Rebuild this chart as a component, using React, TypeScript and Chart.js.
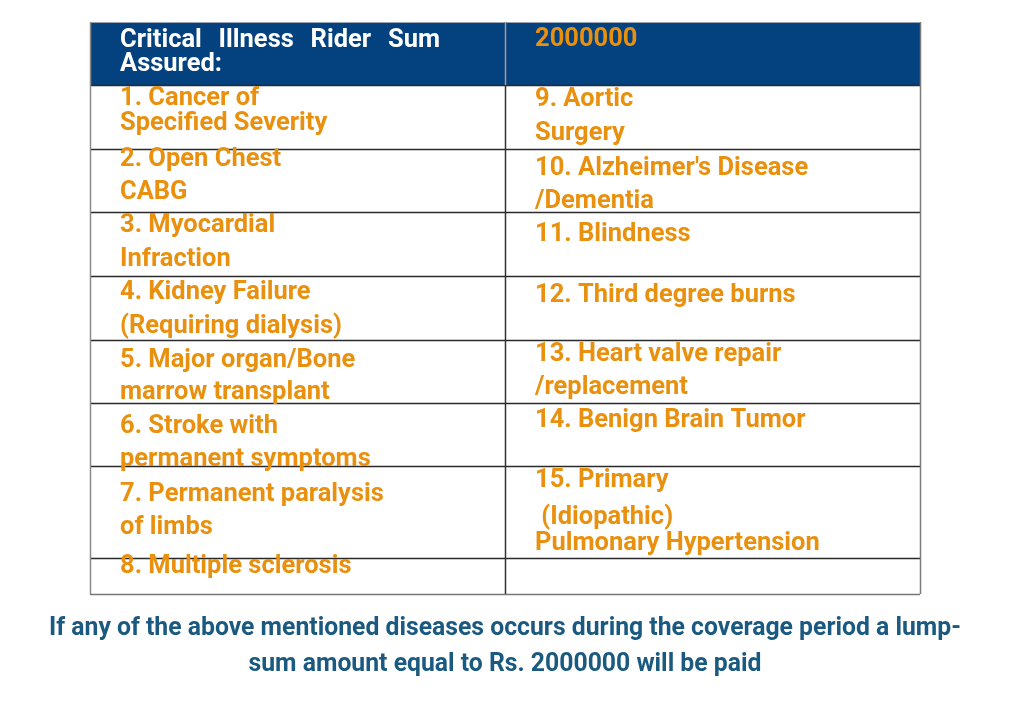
import React, { useEffect, useRef } from "react";
import { Chart, registerables } from "chart.js";

Chart.register(...registerables);

// ---- table content ----
const headerLeft: string[] = ["Critical Illness Rider Sum", "Assured:"];
const headerRight: string[] = ["2000000"];

const leftCells: string[][] = [
  ["1. Cancer of", "Specified Severity"],
  ["2. Open Chest", "CABG"],
  ["3. Myocardial", "Infraction"],
  ["4. Kidney Failure", "(Requiring dialysis)"],
  ["5. Major organ/Bone", "marrow transplant"],
  ["6. Stroke with", "permanent symptoms"],
  ["7. Permanent paralysis", "of limbs"],
  ["8. Multiple sclerosis"],
];

const rightCells: string[][] = [
  ["9. Aortic", "Surgery"],
  ["10. Alzheimer's Disease", "/Dementia"],
  ["11. Blindness"],
  ["12. Third degree burns"],
  ["13. Heart valve repair", "/replacement"],
  ["14. Benign Brain Tumor"],
  ["15. Primary", " (Idiopathic)", "Pulmonary Hypertension"],
  [],
];

const footerLines: string[] = [
  "If any of the above mentioned diseases occurs during the coverage period a lump-",
  "sum amount equal to Rs. 2000000 will be paid",
];

// ---- layout (y units = px offset from table top) ----
const rowEdges = [0, 63, 127, 190, 254, 318, 381, 444, 536, 572];
const headerLeftBase = [24.5, 49];
const headerRightBase = [23.5];
const leftBase: number[][] = [
  [82.5, 108], [144, 176.5], [210, 243.5], [277, 311], [344.5, 377], [411, 444], [479, 511.5], [550.5],
];
const rightBase: number[][] = [
  [83.5, 118], [153, 185.5], [219], [279.5], [339, 371.5], [405], [464.5, 502, 528], [],
];
const footerBase = [612.5, 649];

const ORANGE = "#E9900E";
const NAVY = "#03417F";
const FOOTER = "#1B5A80";
const FONT = "bold 25px Roboto, 'Open Sans', sans-serif";
const SX = 1.02;
const SX_FOOTER = 0.99;

function drawText(ctx: CanvasRenderingContext2D, t: string, x: number, y: number, align: "left" | "center", sx = SX) {
  ctx.save();
  ctx.translate(x, y);
  ctx.scale(sx, 1);
  ctx.textAlign = align;
  ctx.fillText(t, 0, 0);
  ctx.restore();
}

const tablePlugin = {
  id: "tablePlugin",
  afterDraw(chart: any) {
    const ctx = chart.ctx as CanvasRenderingContext2D;
    const xs = chart.scales.x;
    const ys = chart.scales.y;
    const X = (v: number) => xs.getPixelForValue(v);
    const Y = (v: number) => ys.getPixelForValue(v);
    const x0 = X(0), x1 = X(1), x2 = X(2);
    ctx.save();
    // header fill
    ctx.fillStyle = NAVY;
    ctx.fillRect(x0, Y(rowEdges[0]), x2 - x0, Y(rowEdges[1]) - Y(rowEdges[0]));
    // grid lines
    ctx.lineWidth = 1.5;
    for (let i = 1; i < rowEdges.length; i++) {
      ctx.strokeStyle = i === rowEdges.length - 1 ? "#777777" : "#2a2a2a";
      ctx.beginPath();
      ctx.moveTo(x0, Math.round(Y(rowEdges[i])) + 0.5);
      ctx.lineTo(x2, Math.round(Y(rowEdges[i])) + 0.5);
      ctx.stroke();
    }
    ctx.strokeStyle = "#9aa6b4";
    ctx.lineWidth = 1;
    ctx.beginPath();
    ctx.moveTo(x0, Y(0) + 0.5);
    ctx.lineTo(x2, Y(0) + 0.5);
    ctx.stroke();
    ctx.lineWidth = 1.5;
    const vlines: [number, string][] = [[x0, "#8a8a8a"], [x1, "#333333"], [x2, "#7a7a7a"]];
    vlines.forEach(([vx, c]) => {
      ctx.strokeStyle = c;
      ctx.beginPath();
      ctx.moveTo(Math.round(vx) + 0.5, Y(rowEdges[0]));
      ctx.lineTo(Math.round(vx) + 0.5, Y(rowEdges[rowEdges.length - 1]));
      ctx.stroke();
    });
    // header middle line lighter
    ctx.strokeStyle = "#8fa3bf";
    ctx.beginPath();
    ctx.moveTo(Math.round(x1) + 0.5, Y(rowEdges[0]));
    ctx.lineTo(Math.round(x1) + 0.5, Y(rowEdges[1]));
    ctx.stroke();

    ctx.font = FONT;
    ctx.textBaseline = "alphabetic";
    const padL = 30;
    // header left, line 1 justified
    ctx.fillStyle = "#ffffff";
    const words = headerLeft[0].split(" ");
    const justifyW = 320;
    const wordsW = words.reduce((s, w) => s + ctx.measureText(w).width * SX, 0);
    const gap = (justifyW - wordsW) / (words.length - 1);
    let cx = x0 + padL;
    words.forEach((w) => {
      drawText(ctx, w, cx, Y(headerLeftBase[0]), "left");
      cx += ctx.measureText(w).width * SX + gap;
    });
    drawText(ctx, headerLeft[1], x0 + padL, Y(headerLeftBase[1]), "left");
    ctx.fillStyle = ORANGE;
    headerRight.forEach((t, i) => drawText(ctx, t, x1 + padL, Y(headerRightBase[i]), "left"));
    leftCells.forEach((lines, r) =>
      lines.forEach((t, i) => drawText(ctx, t, x0 + padL, Y(leftBase[r][i]), "left"))
    );
    rightCells.forEach((lines, r) =>
      lines.forEach((t, i) => drawText(ctx, t, x1 + padL, Y(rightBase[r][i]), "left"))
    );
    // footer
    ctx.fillStyle = FOOTER;
    footerLines.forEach((t, i) => drawText(ctx, t, x1, Y(footerBase[i]), "center", SX_FOOTER));
    ctx.restore();
  },
};

export default function App() {
  const ref = useRef<HTMLCanvasElement | null>(null);
  useEffect(() => {
    document.body.style.margin = "0";
    const canvas = ref.current!;
    const chart = new Chart(canvas, {
      type: "scatter",
      data: { datasets: [{ data: [], showLine: false }] },
      options: {
        animation: false,
        responsive: false,
        devicePixelRatio: 1,
        layout: { padding: { left: 90, right: 90, top: 22, bottom: 126 } },
        plugins: { legend: { display: false }, tooltip: { enabled: false } },
        scales: {
          x: { type: "linear", min: 0, max: 2, display: false },
          y: { type: "linear", min: 0, max: 572, reverse: true, display: false },
        },
      },
      plugins: [tablePlugin],
    });
    return () => chart.destroy();
  }, []);
  return (
    <div style={{ width: 1010, height: 720, background: "#ffffff" }}>
      <canvas ref={ref} width={1010} height={720} style={{ display: "block" }} />
    </div>
  );
}
